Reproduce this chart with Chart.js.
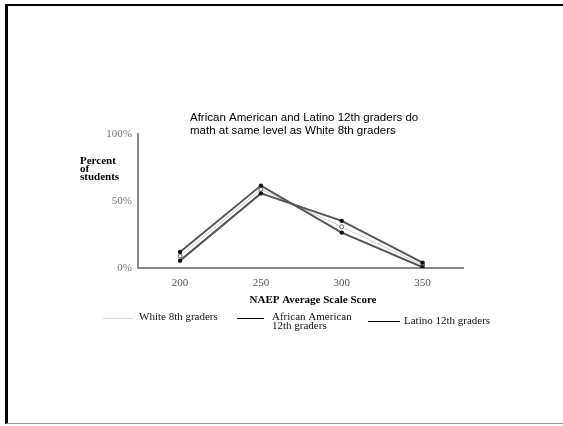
<!DOCTYPE html>
<html>
<head>
<meta charset="utf-8">
<script src="https://cdn.jsdelivr.net/npm/chart.js@4"></script>
<style>
  html, body { margin: 0; padding: 0; background: #fff; }
  #wrap { position: relative; width: 563px; height: 426px; overflow: hidden; }
  #frame { position: absolute; left: 5px; top: 4px; width: 558px; height: 420px;
           border-left: 3px solid #000; border-top: 2px solid #000; border-bottom: 1px solid #999;
           box-sizing: border-box; pointer-events: none; }
  canvas { position: absolute; left: 0; top: 0; }
</style>
</head>
<body>
<div id="wrap">
  <canvas id="c" width="563" height="426"></canvas>
  <div id="frame"></div>
</div>
<script>
// ---- data ----
const scores = [200, 250, 300, 350];
const xTicks = [200, 250, 300, 350];
const yTicks = [0, 50, 100];
const seriesNames = ['White 8th graders', 'African American\n12th graders', 'Latino 12th graders'];
const white8th = [9, 58.7, 30.8, 2.2];
const africanAmerican12th = [11.9, 61.5, 26.4, 0.6];
const latino12th = [5.5, 55.7, 35.2, 4];
const titleLines = ['African American and Latino 12th graders do', 'math at same level as White 8th graders'];
const yTitleLines = ['Percent', 'of', 'students'];
const xTitle = 'NAEP Average Scale Score';

const toXY = arr => arr.map((v, i) => ({ x: scores[i], y: v }));

const textPlugin = {
  id: 'texts',
  afterDraw(chart) {
    const ctx = chart.ctx;
    ctx.save();
    // title
    ctx.fillStyle = '#000';
    ctx.font = '11.5px "Liberation Sans", Arial, sans-serif';
    ctx.textAlign = 'left';
    ctx.textBaseline = 'middle';
    titleLines.forEach((t, i) => ctx.fillText(t, 190, 118 + i * 13));
    // y title
    ctx.font = 'bold 11px "Liberation Serif", "Times New Roman", serif';
    yTitleLines.forEach((t, i) => ctx.fillText(t, 80, 161 + i * 8.2));
    // x title
    ctx.textAlign = 'center';
    ctx.fillText(xTitle, 313, 300);
    // legend
    const ds = chart.data.datasets;
    const items = [
      { x0: 103, x1: 133, ly: 318, tx: 139, ty: 317 },
      { x0: 237, x1: 264, ly: 318, tx: 272, ty: 317 },
      { x0: 368, x1: 400, ly: 321, tx: 404, ty: 321 }
    ];
    ctx.font = '11px "Liberation Serif", "Times New Roman", serif';
    ctx.textAlign = 'left';
    items.forEach((it, i) => {
      const d = ds[i];
      ctx.strokeStyle = d.legendColor;
      ctx.lineWidth = 1;
      ctx.beginPath();
      ctx.moveTo(it.x0, it.ly + 0.5);
      ctx.lineTo(it.x1, it.ly + 0.5);
      ctx.stroke();
      ctx.fillStyle = '#111';
      d.label.split('\n').forEach((l, j) => ctx.fillText(l, it.tx, it.ty + j * 9));
    });
    ctx.restore();
  }
};

new Chart(document.getElementById('c'), {
  type: 'line',
  data: {
    datasets: [
      { label: seriesNames[0], data: toXY(white8th), borderColor: '#cfcfcf', borderWidth: 1,
        pointRadius: 2, pointBackgroundColor: '#fff', pointBorderColor: '#666', pointBorderWidth: 1,
        legendColor: '#d8d8d8', order: 3 },
      { label: seriesNames[1], data: toXY(africanAmerican12th), borderColor: '#555', borderWidth: 2,
        pointRadius: 2.2, pointBackgroundColor: '#111', pointBorderColor: '#111', pointBorderWidth: 0,
        legendColor: '#000', order: 1 },
      { label: seriesNames[2], data: toXY(latino12th), borderColor: '#555', borderWidth: 2,
        pointRadius: 2.2, pointBackgroundColor: '#111', pointBorderColor: '#111', pointBorderWidth: 0,
        legendColor: '#000', order: 2 }
    ]
  },
  options: {
    responsive: false,
    animation: false,
    layout: { padding: { left: 98, right: 100, top: 134, bottom: 128 } },
    plugins: { legend: { display: false }, title: { display: false }, tooltip: { enabled: false } },
    elements: { line: { tension: 0 } },
    scales: {
      x: {
        type: 'linear', min: 174, max: 375,
        afterBuildTicks: s => { s.ticks = xTicks.map(v => ({ value: v })); },
        afterFit: s => { s.height = 30; },
        grid: { display: false, drawTicks: false },
        border: { display: true, color: '#888', width: 2 },
        ticks: { padding: 9, color: '#555', font: { family: '"Liberation Serif", serif', size: 11 } }
      },
      y: {
        min: 0, max: 100,
        afterBuildTicks: s => { s.ticks = yTicks.map(v => ({ value: v })); },
        afterFit: s => { s.width = 40; },
        grid: { display: false, drawTicks: false },
        border: { display: true, color: '#888', width: 2 },
        ticks: { padding: 6, color: '#777', font: { family: '"Liberation Serif", serif', size: 11 },
                 callback: v => v + '%' }
      }
    }
  },
  plugins: [textPlugin]
});
</script>
</body>
</html>
